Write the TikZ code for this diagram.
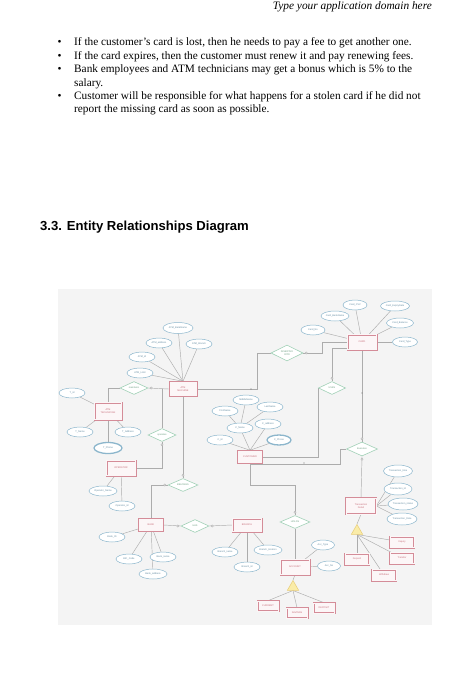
\documentclass[tikz,border=0pt]{standalone}
\usepackage{fontspec}
\setmainfont{Liberation Serif}
\setsansfont{Liberation Sans}
\usetikzlibrary{shapes.geometric,backgrounds}
\definecolor{bgc}{RGB}{244,244,244}
\definecolor{entc}{RGB}{212,140,152}
\definecolor{entfill}{RGB}{252,246,247}
\definecolor{entt}{RGB}{200,110,122}
\definecolor{attrc}{RGB}{140,182,204}
\definecolor{attrt}{RGB}{100,140,162}
\definecolor{relc}{RGB}{160,208,182}
\definecolor{relt}{RGB}{110,160,132}
\definecolor{linec}{RGB}{172,172,172}
\definecolor{isaf}{RGB}{250,236,168}
\definecolor{isad}{RGB}{232,204,118}
\begin{document}
\begin{tikzpicture}[x=1pt,y=-1pt,
  lbl/.style={font=\sffamily\fontsize{2.4}{2.8}\selectfont, align=center, inner sep=0pt},
  ent/.style={lbl, rectangle, draw=entc, fill=entfill, text=entt, line width=0.5pt, minimum width=26pt, minimum height=13pt},
  entd/.style={ent, double=entfill, double distance=0.8pt, line width=0.6pt},
  attr/.style={lbl, ellipse, draw=attrc, fill=white, text=attrt, line width=0.5pt, minimum width=26pt, minimum height=10pt},
  mattr/.style={attr, line width=1.3pt},
  rel/.style={lbl, diamond, draw=relc, fill=white, text=relt, line width=0.6pt, minimum width=28pt, minimum height=13pt, aspect=2.2},
  isa/.style={regular polygon, regular polygon sides=3, draw=isad, fill=isaf, line width=0.5pt, minimum size=13pt, inner sep=0pt},
  conn/.style={draw=linec, line width=0.45pt},
  dotm/.style={circle, fill=linec!70!black, inner sep=0pt, minimum size=1.3pt},
  mk/.style={circle, draw=linec, fill=bgc, inner sep=0pt, minimum size=2.3pt, line width=0.4pt},
  body/.style={font=\fontsize{11.3}{13}\selectfont, anchor=base west, inner sep=0pt}
]
\useasboundingbox (0,0) rectangle (465,700);

% header and text
\node[anchor=base east, inner sep=0pt, font=\fontsize{11.35}{13}\selectfont\itshape] (hdr) at (432,10) {Type your application domain here};
\foreach \y/\n in {46/b1,59.4/b2,72.8/b3,99.6/b4}{\node[anchor=base, inner sep=0pt, font=\fontsize{11.3}{13}\selectfont] (\n) at (59.5,\y) {\textbullet};}
\node[body] (t1) at (74,46) {If the customer’s card is lost, then he needs to pay a fee to get another one.};
\node[body] (t2) at (74,59.4) {If the card expires, then the customer must renew it and pay renewing fees.};
\node[body] (t3) at (74,72.8) {Bank employees and ATM technicians may get a bonus which is 5\% to the};
\node[body] (t4) at (74,86.2) {salary.};
\node[body] (t5) at (74,99.6) {Customer will be responsible for what happens for a stolen card if he did not};
\node[body] (t6) at (74,113) {report the missing card as soon as possible.};
\node[anchor=base west, inner sep=0pt, font=\sffamily\bfseries\fontsize{13.1}{15}\selectfont] (head) at (40,230.7) {3.3. Entity Relationships Diagram};

% ---------- nodes ----------
% ATM machine
\node[ent, minimum width=28pt, minimum height=15pt] (atm) at (183,389) {ATM\\MACHINE};
\node[attr, minimum width=30pt, minimum height=11pt] (atmbn) at (178,328) {ATM\_BankName};
\node[attr] (atmad) at (159,343) {ATM\_address};
\node[attr] (atmbr) at (199,344) {ATM\_Branch};
\node[attr] (atmid) at (142,357) {ATM\_id};
\node[attr] (atmli) at (140,373) {ATM\_Limit};

% technician
\node[entd, minimum width=27pt, minimum height=17pt] (tech) at (108,411) {ATM\\TECHNICIAN};
\node[attr] (tid) at (72,393) {T\_id};
\node[attr] (tname) at (80,432) {T\_Name};
\node[attr] (taddr) at (128,432) {T\_Address};
\node[mattr, minimum width=28pt, minimum height=11pt] (tphone) at (108,448) {T\_Phone};
\node[rel] (maint) at (134,388) {maintains};

% operator
\node[entd, minimum width=29pt, minimum height=15pt] (oper) at (121,468) {OPERATOR};
\node[attr, minimum width=28pt] (opname) at (103,491) {Operator\_Name};
\node[attr] (opid) at (122,506) {Operator\_id};
\node[rel] (ops) at (162,435) {operates};

% bank
\node[rel, minimum width=30pt] (belongs) at (183,485) {BELONGS};
\node[ent, minimum width=25pt, minimum height=13pt] (bank) at (151,525) {BANK};
\node[attr] (bankid) at (112,537) {Bank\_ID};
\node[attr] (bic) at (129,559) {BIC\_Code};
\node[attr] (bankname) at (163,557) {Bank\_name};
\node[attr, minimum width=28pt] (bankaddr) at (153,574) {Bank\_address};
\node[rel] (has) at (195,526) {HAS};

% branch
\node[entd, minimum width=29pt, minimum height=13pt] (branch) at (247,525) {BRANCH};
\node[attr] (brname) at (225,552) {Branch\_name};
\node[attr, minimum width=28pt] (brloc) at (268,550) {Branch\_location};
\node[attr] (brid) at (247,567) {Branch\_id};

% customer
\node[ent, minimum width=25pt, minimum height=13pt] (cust) at (250,457) {CUSTOMER};
\node[attr] (fname) at (225,411) {FirstName};
\node[attr] (mname) at (246,400) {MiddleName};
\node[attr] (lname) at (270,407) {LastName};
\node[attr] (cname) at (240,428) {C\_Name};
\node[attr] (caddr) at (268,424) {C\_address};
\node[attr] (cid) at (220,440) {C\_id};
\node[mattr, minimum width=24pt] (cphone) at (279,440) {C\_Phone};

% account
\node[rel, minimum width=30pt] (holds) at (295,522) {HOLDS};
\node[entd, minimum width=29pt, minimum height=15pt] (acc) at (295,567) {ACCOUNT};
\node[attr, minimum width=23pt] (acctype) at (323,545) {Acc\_Type};
\node[attr, minimum width=23pt] (accno) at (329,566) {Acc\_No};
\node[isa] (isa1) at (293,587) {};
\node[entd, minimum width=21pt, minimum height=10pt] (cur) at (268,606) {CURRENT};
\node[entd, minimum width=21pt, minimum height=10pt] (sav) at (297,613) {SAVINGS};
\node[entd, minimum width=21pt, minimum height=10pt] (dep) at (324,608) {DEPOSIT};

% card
\node[entd, minimum width=29pt, minimum height=15pt] (card) at (362,342) {CARD};
\node[attr, minimum width=24pt] (cardno) at (313,330) {Card\_No};
\node[attr, minimum width=28pt] (cardbn) at (335,316) {Card\_BankName};
\node[attr, minimum width=24pt] (cardcvv) at (355,305) {Card\_CVV};
\node[attr, minimum width=29pt] (cardexp) at (395,306) {Card\_ExpiryDate};
\node[attr, minimum width=27pt] (cardbal) at (400,323) {Card\_Balance};
\node[attr, minimum width=25pt] (cardtype) at (405,342) {Card\_Type};
\node[rel, minimum width=32pt, minimum height=16pt] (ins) at (287,353) {INSERTED\\INTO};
\node[rel, minimum width=27pt] (uses) at (332,388) {USES};

% transaction
\node[rel, minimum width=31pt, minimum height=14pt] (exe) at (362,449) {Executes};
\node[entd, minimum width=30pt, minimum height=16pt] (tra) at (361,506) {Transaction\\Detail};
\node[attr, minimum width=29pt, minimum height=12pt] (trtime) at (398,471) {Transaction\_time};
\node[attr, minimum width=28pt, minimum height=12pt] (trid) at (398,489) {Transaction\_id};
\node[attr, minimum width=30pt, minimum height=12pt] (trstat) at (403,504) {Transaction\_status};
\node[attr, minimum width=30pt, minimum height=12pt] (trdate) at (402,519) {Transaction\_Date};
\node[isa] (isa2) at (357,531) {};
\node[entd, minimum width=24pt, minimum height=11pt] (tdep) at (357,559) {Deposit};
\node[entd, minimum width=24pt, minimum height=11pt] (twd) at (384,575) {Withdraw};
\node[entd, minimum width=24pt, minimum height=11pt] (tinq) at (402,542) {Inquiry};
\node[entd, minimum width=24pt, minimum height=11pt] (ttr) at (402,558) {Transfer};

% bend points
\coordinate (j1) at (257,389);
\coordinate (j2) at (322,353);
\coordinate (j3) at (340,449);
\coordinate (j4) at (250,485);

% dots on lines
\node[dotm] (d1) at (251,389) {};
\node[dotm] (d2) at (362,393) {};
\node[dotm] (d3) at (304,463) {};

% small cardinality circles near diamond ends
\node[mk] (m1) at ([yshift=3pt]belongs.north) {};
\node[mk] (m2) at ([xshift=-3pt]belongs.west) {};
\node[mk] (m3) at ([xshift=-3pt]has.west) {};
\node[mk] (m4) at ([xshift=3pt]has.east) {};
\node[mk] (m5) at ([yshift=3pt]holds.north) {};
\node[mk] (m6) at ([yshift=-3pt]ops.south) {};
\node[mk] (m7) at ([yshift=3pt]exe.north) {};
\node[mk] (m8) at ([yshift=-3pt]exe.south) {};
\node[mk] (m9) at ([xshift=3pt]ins.east) {};
\node[mk] (m10) at ([yshift=3pt]uses.north) {};
\node[mk] (m11) at ([xshift=3pt]maint.east) {};

% ---------- connectors (behind) ----------
\begin{scope}[on background layer]
\fill[white] (0,0) rectangle (465,700);
\fill[bgc] (58,289) rectangle (432,625);
% ATM attributes
\foreach \a in {atmbn,atmad,atmbr,atmid,atmli} \draw[conn] (\a) -- (atm.north);
% technician
\foreach \a in {tid,tname,taddr,tphone} \draw[conn] (\a) -- (tech);
\draw[conn] (maint.west) -| (tech.north);
\draw[conn] (maint.east) -- (atm.west);
\draw[conn] (ops.north) -- (ops.north |- atm.west);
\draw[conn] (ops.south) |- (oper.east);
\foreach \a in {opname,opid} \draw[conn] (\a) -- (oper);
% bank
\draw[conn] (atm.south) -- (belongs.north);
\draw[conn] (belongs.west) -| (bank.north);
\foreach \a in {bankid,bic,bankname,bankaddr} \draw[conn] (\a) -- (bank);
\draw[conn] (bank.east) -- (has.west);
\draw[conn] (has.east) -- (branch.west);
\foreach \a in {brname,brloc,brid} \draw[conn] (\a) -- (branch);
% customer
\foreach \a in {fname,mname,lname} \draw[conn] (\a) -- (cname);
\foreach \a in {cname,caddr,cid,cphone} \draw[conn] (\a) -- (cust.north);
\draw[conn] (cust.south) -- (j4) -| (holds.north);
\draw[conn] (holds.south) -- (acc.north);
\foreach \a in {acctype,accno} \draw[conn] (\a) -- (acc);
\draw[conn] (acc.south) -- (isa1.north);
\foreach \a in {cur,sav,dep} \draw[conn] (isa1.south) -- (\a.north);
% card
\draw[conn] (atm.east) -- (j1) |- (ins.west);
\draw[conn] (ins.east) -- (j2) |- (card.west);
\foreach \a in {cardno,cardbn,cardcvv,cardexp,cardbal,cardtype} \draw[conn] (\a) -- (card);
\draw[conn] (uses.north) |- ([yshift=1.5pt]card.south west);
\draw[conn] (uses.west) |- (cust.east);
% transaction
\draw[conn] (card.south) -- (exe.north);
\draw[conn] (exe.west) -- (j3) |- (cust.south);
\draw[conn] (exe.south) -- (tra.north);
\foreach \a in {trtime,trid,trstat,trdate} \draw[conn] (\a) -- (tra.east);
\draw[conn] (tra.south) -- (isa2.north);
\foreach \a in {tdep,twd,tinq,ttr} \draw[conn] (isa2.south) -- (\a);
\end{scope}
\end{tikzpicture}
\end{document}
